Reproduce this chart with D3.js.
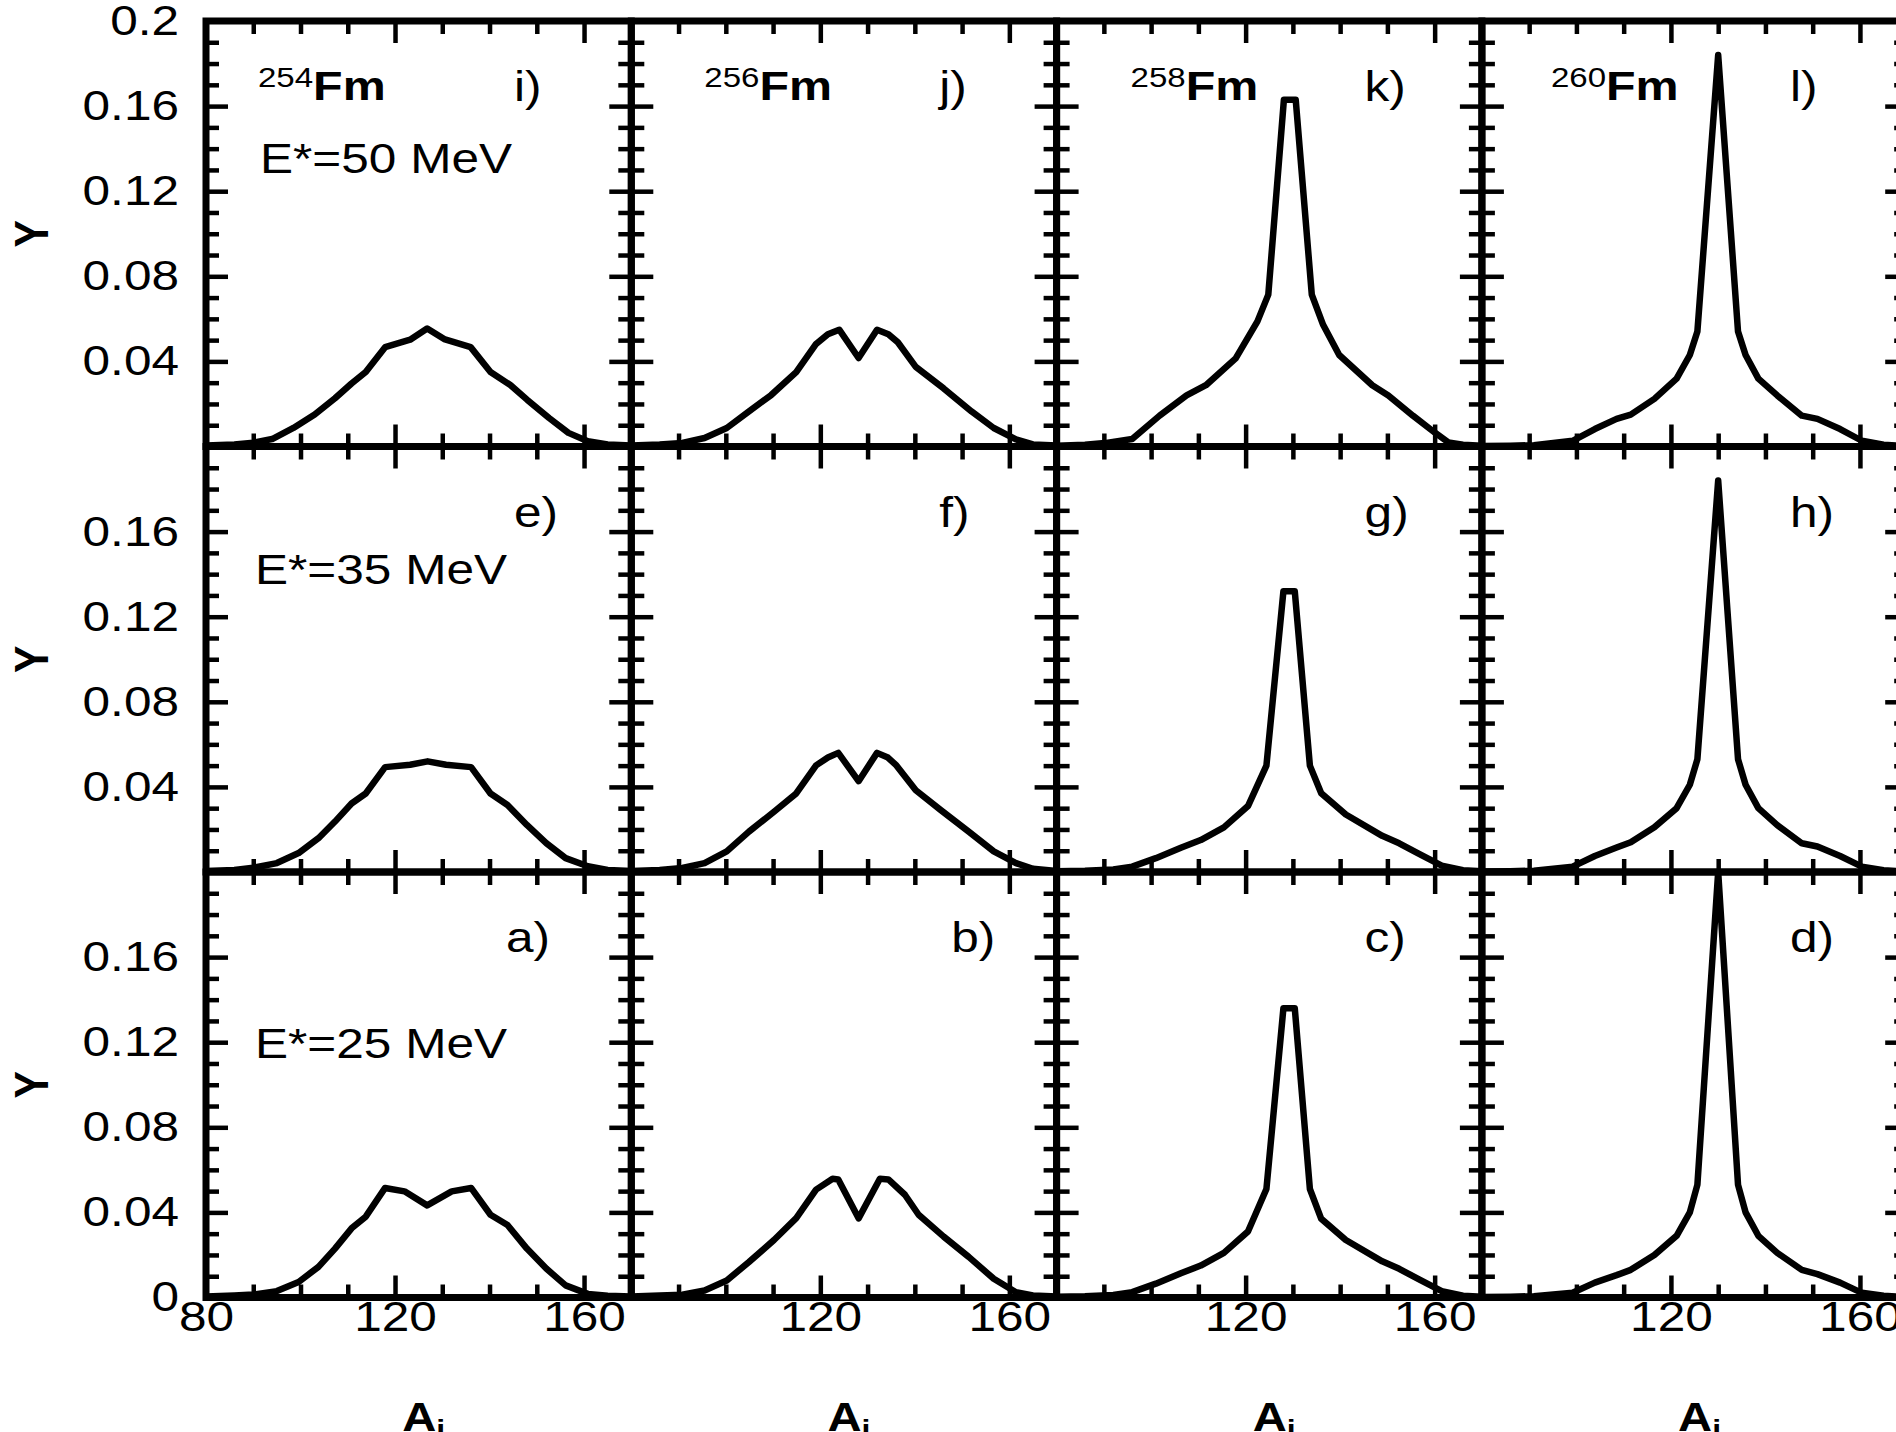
<!DOCTYPE html>
<html>
<head>
<meta charset="utf-8">
<script src="https://cdn.jsdelivr.net/npm/d3@7"></script>
<style>
  body { margin: 0; background: #fff; }
  svg { display: block; }
  text { font-family: "Liberation Sans", Arial, sans-serif; fill: #000; }
</style>
</head>
<body>
<svg id="chart" width="1896" height="1432"></svg>
<script>
// columns = nuclei, rows = excitation energies (top row is the highest)
const nuclei = ["254", "256", "258", "260"];
const energies = ["50", "35", "25"];
const panelLetters = [["i", "j", "k", "l"], ["e", "f", "g", "h"], ["a", "b", "c", "d"]];

const xTicksMinor = [90, 100, 110, 130, 140, 150];
const xTicksMajor = [120, 160];
const yTicksMajor = [0.04, 0.08, 0.12, 0.16];
const yTicksMinor = d3.range(1, 20).filter(k => k % 4 !== 0).map(k => k / 100);

// fragment mass A_j and yield Y, one pair per panel
const massI = [80, 86, 90, 94, 98.5, 103, 107.3, 110.8, 113.8, 117.9, 123.2, 126.8, 130.4, 136, 140.2, 144.4, 148, 152.6, 156.7, 160.8, 165, 170];
const yieldI = [0.0005, 0.001, 0.0018, 0.0035, 0.0087, 0.015, 0.0227, 0.0296, 0.035, 0.0467, 0.0502, 0.0555, 0.0505, 0.0467, 0.035, 0.0289, 0.0219, 0.0134, 0.0064, 0.0025, 0.001, 0.0005];

const massE = [80, 86, 90, 95, 99.6, 103.8, 107.3, 110.8, 113.8, 117.9, 123.2, 126.9, 130.8, 136.1, 140.2, 143.8, 147.9, 152, 156.1, 160.8, 165, 170];
const yieldE = [0.0005, 0.001, 0.002, 0.0042, 0.0089, 0.0159, 0.0237, 0.0322, 0.0369, 0.0493, 0.0504, 0.052, 0.0504, 0.0493, 0.0369, 0.0315, 0.0221, 0.0136, 0.0065, 0.0027, 0.001, 0.0005];

const massA = [80, 86, 90, 95, 99.6, 103.8, 107.3, 110.8, 113.8, 117.9, 122, 126.8, 132, 136.1, 140.2, 143.8, 147.9, 152, 156.1, 160.8, 165, 170];
const yieldA = [0.0005, 0.001, 0.0014, 0.003, 0.0073, 0.0144, 0.023, 0.0325, 0.038, 0.0515, 0.0499, 0.0433, 0.0499, 0.0515, 0.0389, 0.0341, 0.023, 0.0136, 0.0057, 0.0017, 0.0008, 0.0005];

const massJ = [80, 86, 90.8, 95.5, 100.2, 104.9, 109.6, 114.9, 119.1, 121.6, 124, 128.1, 132, 134.4, 136.4, 140.2, 146.1, 152, 156.7, 161.4, 165, 170];
const yieldJ = [0.0005, 0.001, 0.0017, 0.004, 0.0087, 0.0165, 0.0242, 0.035, 0.0482, 0.0528, 0.0549, 0.0416, 0.0549, 0.0528, 0.049, 0.0374, 0.0273, 0.0165, 0.0087, 0.0033, 0.001, 0.0005];

const massF = [80, 86, 90.8, 95.5, 100.2, 104.9, 110.2, 114.9, 119.1, 121.6, 123.8, 128.1, 132, 134.3, 136.1, 140.2, 145.5, 151.4, 156.7, 161.4, 165, 170];
const yieldF = [0.0005, 0.001, 0.0019, 0.0042, 0.0097, 0.019, 0.0283, 0.0369, 0.0501, 0.0538, 0.056, 0.0427, 0.056, 0.0538, 0.0501, 0.0384, 0.0291, 0.019, 0.0097, 0.0042, 0.0015, 0.0005];

const massB = [80, 86, 90.8, 95.5, 100.2, 104.9, 110.2, 114.9, 119.1, 122.6, 123.8, 128.1, 132.6, 134.4, 137.9, 140.8, 146.1, 151.4, 156.7, 161.4, 165, 170];
const yieldB = [0.0005, 0.001, 0.0013, 0.0033, 0.008, 0.0167, 0.027, 0.0373, 0.0507, 0.0558, 0.0555, 0.0372, 0.0558, 0.0555, 0.0483, 0.0389, 0.0286, 0.0191, 0.0088, 0.0025, 0.001, 0.0005];

const massK = [80, 86, 90.2, 96, 101.8, 107.5, 111.6, 117.9, 122.5, 124.8, 128.1, 130.6, 134, 136.4, 139.8, 146.8, 150.2, 155.4, 160, 162.9, 166, 170];
const yieldK = [0.0003, 0.0008, 0.0016, 0.0035, 0.0145, 0.024, 0.0288, 0.0414, 0.0588, 0.0714, 0.163, 0.163, 0.0714, 0.0572, 0.043, 0.0288, 0.024, 0.0145, 0.0066, 0.0019, 0.0008, 0.0003];

const massG = [80, 86, 92, 96, 101, 106.3, 110.5, 115.4, 120.5, 124.4, 128, 130.4, 133.6, 136, 141.2, 148.9, 152.5, 156.6, 161.5, 166, 170];
const yieldG = [0.0003, 0.0006, 0.0012, 0.0025, 0.0065, 0.0114, 0.015, 0.021, 0.031, 0.05, 0.132, 0.132, 0.05, 0.037, 0.027, 0.017, 0.0135, 0.0086, 0.003, 0.0008, 0.0003];

const massC = [80, 86, 92, 96, 101, 106.3, 110.5, 115.4, 120.5, 124.4, 128, 130.4, 133.6, 136, 141.2, 148.9, 152.5, 156.6, 161.5, 166, 170];
const yieldC = [0.0003, 0.0006, 0.0012, 0.0025, 0.0065, 0.0114, 0.015, 0.021, 0.031, 0.051, 0.136, 0.136, 0.051, 0.037, 0.027, 0.017, 0.0135, 0.0086, 0.003, 0.0008, 0.0003];

const massL = [80, 86, 91, 99.2, 103.9, 108.5, 111.5, 116.5, 121.2, 124, 125.6, 130, 134.2, 135.8, 138.5, 142.5, 147.7, 151, 155.8, 160.4, 165, 170];
const yieldL = [0.0002, 0.0004, 0.0006, 0.0027, 0.0082, 0.013, 0.015, 0.0224, 0.0319, 0.043, 0.054, 0.184, 0.054, 0.043, 0.0319, 0.024, 0.0145, 0.013, 0.0082, 0.0027, 0.0008, 0.0002];

const massH = [80, 86, 91, 99.2, 103.9, 108.5, 111.5, 116.5, 121.2, 124, 125.6, 130, 134.2, 135.8, 138.5, 142.5, 147.7, 151, 155.8, 160.4, 165, 170];
const yieldH = [0.0002, 0.0004, 0.0006, 0.0025, 0.0075, 0.0115, 0.014, 0.021, 0.03, 0.041, 0.053, 0.184, 0.053, 0.041, 0.03, 0.022, 0.0135, 0.012, 0.0075, 0.0025, 0.0008, 0.0002];

const massD = [80, 86, 91, 99.2, 103.9, 108.5, 111.5, 116.5, 121.2, 124, 125.6, 130, 134.2, 135.8, 138.5, 142.5, 147.7, 151, 155.8, 160.4, 165, 170];
const yieldD = [0.0002, 0.0004, 0.0006, 0.0022, 0.007, 0.0105, 0.013, 0.02, 0.029, 0.04, 0.053, 0.2, 0.053, 0.04, 0.029, 0.021, 0.013, 0.011, 0.007, 0.0022, 0.0008, 0.0002];

const series = {
  i: [massI, yieldI], j: [massJ, yieldJ], k: [massK, yieldK], l: [massL, yieldL],
  e: [massE, yieldE], f: [massF, yieldF], g: [massG, yieldG], h: [massH, yieldH],
  a: [massA, yieldA], b: [massB, yieldB], c: [massC, yieldC], d: [massD, yieldD]
};

// layout
const gridLeft = 206, gridTop = 21, panelW = 425.3, panelH = 425.5;
const sx = 1.18;               // the original figure is stretched sideways
const fontSize = 42;
const minorLen = 13, majorLen = 22;
const fmDx = [52, 73, 74, 69];
const letterDx = { a: 300, b: 320 };
const energyDy = [152, 137, 186];
const energyDx = [54, 49, 49];

const svg = d3.select("#chart");

const x = d3.scaleLinear().domain([80, 170]).range([0, panelW]);
const y = d3.scaleLinear().domain([0, 0.2]).range([panelH, 0]);

const line = d3.line()
  .x(d => x(d[0]))
  .y(d => y(d[1]));

function drawTicks(g, axis, values, len, transform) {
  g.append("g")
    .attr("transform", transform)
    .call(axis.tickValues(values).tickSize(-len).tickFormat(""))
    .call(s => s.select(".domain").remove())
    .selectAll("line")
    .attr("stroke", "#000")
    .attr("stroke-width", 4.5);
}

panelLetters.forEach((row, r) => {
  row.forEach((letter, c) => {
    const g = svg.append("g")
      .attr("transform", `translate(${gridLeft + c * panelW}, ${gridTop + r * panelH})`);

    const [mass, yld] = series[letter];
    g.append("path")
      .datum(d3.zip(mass, yld))
      .attr("d", line)
      .attr("fill", "none")
      .attr("stroke", "#000")
      .attr("stroke-width", 6.5)
      .attr("stroke-linejoin", "round");

    drawTicks(g, d3.axisBottom(x), xTicksMinor, minorLen, `translate(0, ${panelH})`);
    drawTicks(g, d3.axisBottom(x), xTicksMajor, majorLen, `translate(0, ${panelH})`);
    drawTicks(g, d3.axisTop(x), xTicksMinor, minorLen, "translate(0, 0)");
    drawTicks(g, d3.axisTop(x), xTicksMajor, majorLen, "translate(0, 0)");
    drawTicks(g, d3.axisLeft(y), yTicksMinor, minorLen, "translate(0, 0)");
    drawTicks(g, d3.axisLeft(y), yTicksMajor, majorLen, "translate(0, 0)");
    drawTicks(g, d3.axisRight(y), yTicksMinor, minorLen, `translate(${panelW}, 0)`);
    drawTicks(g, d3.axisRight(y), yTicksMajor, majorLen, `translate(${panelW}, 0)`);

    g.append("rect")
      .attr("width", panelW)
      .attr("height", panelH)
      .attr("fill", "none")
      .attr("stroke", "#000")
      .attr("stroke-width", 7);

    // panel letter
    g.append("text")
      .attr("transform", `translate(${letterDx[letter] || 308}, 80) scale(${sx}, 1)`)
      .attr("font-size", fontSize)
      .text(letter + ")");

    // nucleus name on the top row
    if (r === 0) {
      const t = g.append("text")
        .attr("transform", `translate(${fmDx[c]}, 79) scale(${sx}, 1)`);
      t.append("tspan").attr("font-size", 28).attr("dy", -13).text(nuclei[c]);
      t.append("tspan").attr("font-size", 41).attr("font-weight", "bold").attr("dy", 13).text("Fm");
    }

    // excitation energy in the first column
    if (c === 0) {
      g.append("text")
        .attr("transform", `translate(${energyDx[r]}, ${energyDy[r]}) scale(${sx}, 1)`)
        .attr("font-size", fontSize)
        .text(`E*=${energies[r]} MeV`);
    }

    // y tick labels on the first column
    if (c === 0) {
      const vals = r === 0 ? [0.04, 0.08, 0.12, 0.16, 0.2]
        : r === 2 ? [0, 0.04, 0.08, 0.12, 0.16] : [0.04, 0.08, 0.12, 0.16];
      g.append("g")
        .call(d3.axisLeft(y).tickValues(vals).tickSize(0).tickPadding(27)
          .tickFormat(d => d === 0 ? "0" : String(+d.toFixed(2))))
        .call(s => s.select(".domain").remove())
        .attr("font-size", fontSize)
        .attr("font-family", "Liberation Sans, Arial, sans-serif")
        .selectAll("text")
        .attr("x", -27 / sx)
        .attr("transform", `scale(${sx}, 1)`);
    }

    // x tick labels on the bottom row
    if (r === 2) {
      const vals = c === 0 ? [80, 120, 160] : [120, 160];
      g.append("g")
        .attr("transform", `translate(0, ${panelH})`)
        .call(d3.axisBottom(x).tickValues(vals).tickSize(0).tickPadding(4).tickFormat(d3.format("d")))
        .call(s => s.select(".domain").remove())
        .attr("font-size", fontSize)
        .attr("font-family", "Liberation Sans, Arial, sans-serif")
        .selectAll("text")
        .attr("transform", `scale(${sx}, 1)`);

      const t = g.append("text")
        .attr("transform", `translate(${panelW / 2 + 5}, ${panelH + 133}) scale(${sx}, 1)`)
        .attr("text-anchor", "middle")
        .attr("font-weight", "bold");
      t.append("tspan").attr("font-size", 40).text("A");
      t.append("tspan").attr("font-size", 27).attr("dy", 8).text("j");
    }
  });

  // row axis title
  svg.append("text")
    .attr("transform", `translate(31, ${gridTop + (r + 0.5) * panelH}) scale(${sx}, 1) rotate(-90)`)
    .attr("text-anchor", "middle")
    .attr("dy", "0.36em")
    .attr("font-size", 41)
    .attr("font-weight", "bold")
    .text("Y");
});
</script>
</body>
</html>
